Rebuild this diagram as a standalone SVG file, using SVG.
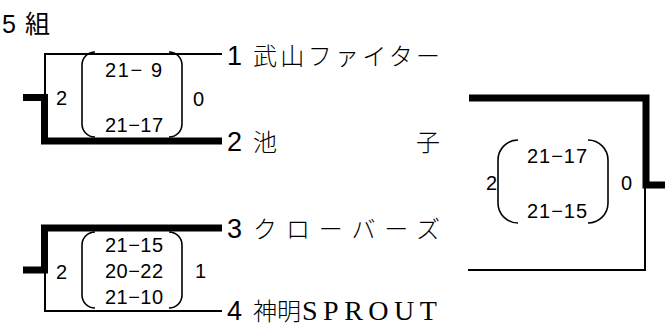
<svg xmlns="http://www.w3.org/2000/svg" width="665" height="325" viewBox="0 0 665 325">
<style>
.bg{fill:#fff}
.thick{fill:none;stroke:#000;stroke-width:7;stroke-linejoin:miter}
.thin{fill:none;stroke:#000;stroke-width:2;stroke-linejoin:miter}
.paren{fill:none;stroke:#000;stroke-width:1.6}
.sc{font-family:"Liberation Sans","Noto Sans CJK JP",sans-serif;font-size:20px;fill:#000}
.num{font-family:"Liberation Sans",sans-serif;font-size:27px;fill:#000}
.name{font-family:"Liberation Serif","Noto Sans CJK JP",serif;font-size:24px;font-weight:300;fill:#000}
.lat{font-family:"Liberation Serif",serif;font-size:28px;letter-spacing:5.5px;fill:#000}
.title{font-family:"Liberation Sans","Noto Sans CJK JP",sans-serif;font-size:25px;fill:#000}
</style>
<rect class="bg" x="0" y="0" width="665" height="325"/>
<g id="title"><text class="title" x="2" y="33">5<tspan dx="9">組</tspan></text></g>
<g id="connectors">
<path class="thin" d="M222,54 H45 V97"/>
<path class="thick" d="M23,97.5 H44.5 V141 H222"/>
<path class="thick" d="M222,228 H44.5 V270 H23"/>
<path class="thin" d="M45,270 V311 H222"/>
<path class="thick" d="M469,98 H646 V185 H665"/>
<path class="thin" d="M645,185 V270 H468"/>
</g>
<g id="team1"><text class="num" x="227" y="65">1</text><text class="name" x="253" y="65" textLength="187" lengthAdjust="spacing">武山ファイター</text></g>
<g id="team2"><text class="num" x="227" y="151">2</text><text class="name" x="253" y="151">池<tspan x="416">子</tspan></text></g>
<g id="team3"><text class="num" x="227" y="238">3</text><text class="name" x="253" y="238" textLength="187" lengthAdjust="spacing">クローバーズ</text></g>
<g id="team4"><text class="num" x="227" y="320">4</text><text class="name" x="253" y="320">神明<tspan class="lat" x="302">SPROUT</tspan></text></g>
<g id="match1">
<path class="paren" d="M95,52 A13,13 0 0 0 82,65 V124 A13,13 0 0 0 95,137"/>
<path class="paren" d="M169,52 A13,13 0 0 1 182,65 V124 A13,13 0 0 1 169,137"/>
<text class="sc" x="56" y="105">2</text>
<text class="sc" x="105" y="77" textLength="57" lengthAdjust="spacing">21− 9</text>
<text class="sc" x="105" y="132" textLength="58" lengthAdjust="spacing">21−17</text>
<text class="sc" x="193" y="106">0</text>
</g>
<g id="match2">
<path class="paren" d="M95,232 A13,13 0 0 0 82,245 V295 A13,13 0 0 0 95,308"/>
<path class="paren" d="M169,232 A13,13 0 0 1 182,245 V295 A13,13 0 0 1 169,308"/>
<text class="sc" x="56" y="279">2</text>
<text class="sc" x="105" y="251.5" textLength="58" lengthAdjust="spacing">21−15</text>
<text class="sc" x="105" y="278" textLength="58" lengthAdjust="spacing">20−22</text>
<text class="sc" x="105" y="304" textLength="58" lengthAdjust="spacing">21−10</text>
<text class="sc" x="195" y="278">1</text>
</g>
<g id="final">
<path class="paren" d="M518,140 A20,20 0 0 0 498,160 V203 A20,20 0 0 0 518,223"/>
<path class="paren" d="M588,140 A20,20 0 0 1 608,160 V203 A20,20 0 0 1 588,223"/>
<text class="sc" x="486" y="190">2</text>
<text class="sc" x="527" y="163" textLength="60" lengthAdjust="spacing">21−17</text>
<text class="sc" x="527" y="218" textLength="60" lengthAdjust="spacing">21−15</text>
<text class="sc" x="621" y="190">0</text>
</g>
</svg>
